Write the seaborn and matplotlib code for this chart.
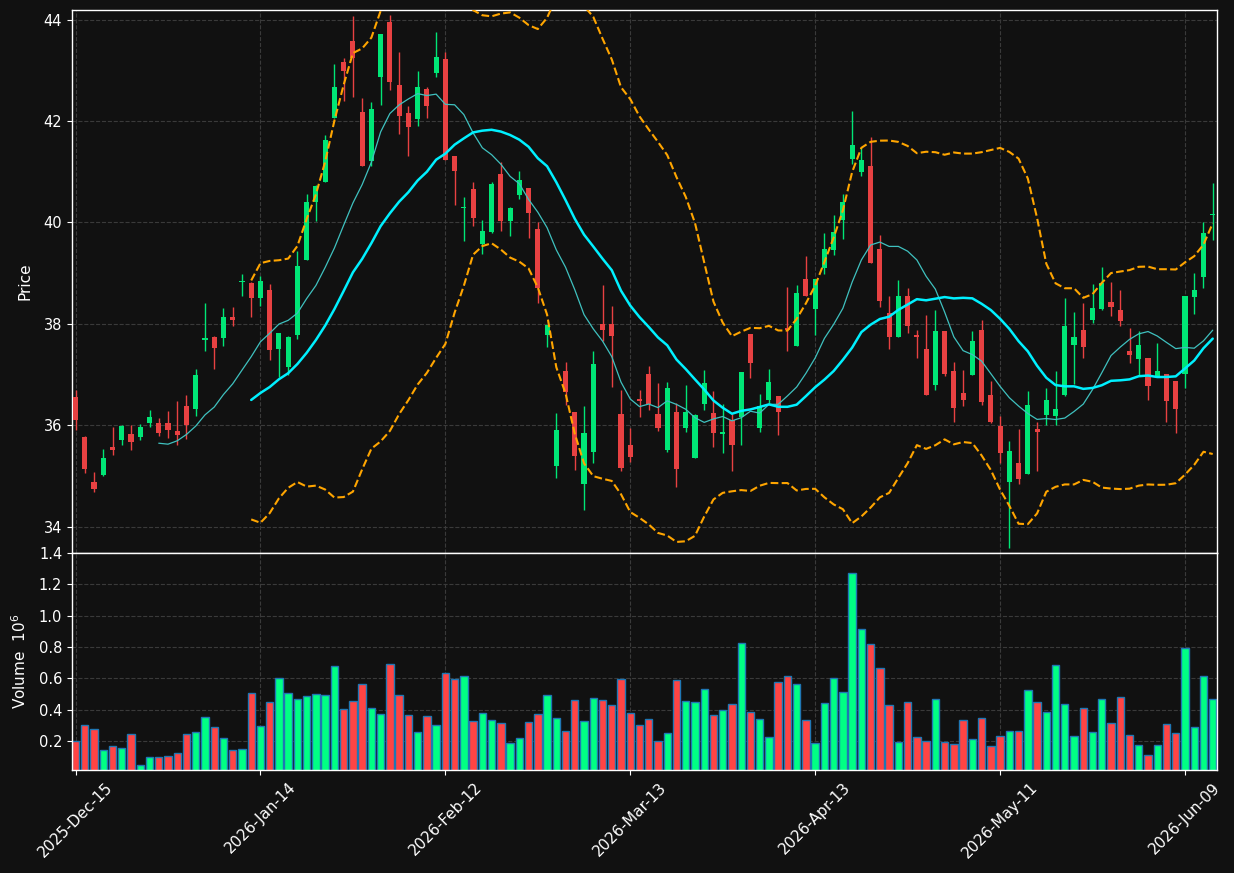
import matplotlib
matplotlib.use("Agg")
import matplotlib.pyplot as plt
import numpy as np
import pandas as pd
import seaborn as sns

# daily OHLC (one row per trading day, 2025-12-15 .. 2026-06-12)
opens = [
    36.56, 35.77, 34.87, 35.01, 35.58, 35.70, 35.82, 35.77, 36.04, 36.04,
    36.05, 35.89, 36.37, 36.32, 37.68, 37.74, 37.72, 38.14, 38.83, 38.81,
    38.50, 38.66, 37.51, 37.14, 37.78, 39.26, 40.40, 40.79, 42.06, 43.17,
    43.57, 42.18, 41.21, 42.87, 43.96, 42.71, 42.15, 42.04, 42.64, 42.94,
    43.22, 41.32, 40.28, 40.65, 39.57, 39.82, 40.95, 40.02, 40.54, 40.67,
    39.88, 37.78, 35.19, 37.06, 36.26, 34.84, 35.47, 37.99, 37.99, 36.23,
    35.61, 36.51, 37.02, 36.23, 35.51, 36.26, 35.95, 35.35, 36.42, 36.25,
    35.83, 36.10, 36.16, 37.79, 35.95, 36.49, 36.58, 37.92, 37.57, 38.89,
    38.29, 39.10, 39.45, 40.05, 41.25, 41.00, 41.12, 39.47, 38.21, 37.74,
    38.55, 37.78, 37.51, 36.79, 37.85, 37.06, 36.63, 36.99, 37.88, 36.60,
    35.99, 34.87, 35.26, 35.04, 35.93, 36.21, 36.19, 36.60, 37.58, 37.87,
    38.07, 38.29, 38.43, 38.28, 37.46, 37.31, 37.32, 36.97, 37.02, 36.88,
    37.02, 38.53, 38.93, 40.15,
]
highs = [
    36.70, 35.78, 35.08, 35.54, 35.96, 36.01, 36.01, 36.03, 36.30, 36.14,
    36.28, 36.47, 36.60, 37.11, 38.41, 37.76, 38.31, 38.34, 38.99, 38.82,
    38.94, 38.78, 37.82, 37.76, 39.43, 40.56, 40.74, 41.72, 43.13, 43.24,
    44.08, 42.46, 42.37, 43.71, 44.10, 43.36, 42.29, 42.99, 42.68, 43.75,
    43.36, 41.32, 40.50, 40.79, 40.05, 40.79, 41.20, 40.31, 41.02, 40.67,
    40.00, 37.97, 36.24, 37.25, 36.26, 36.37, 37.46, 38.76, 38.36, 36.69,
    35.94, 36.69, 37.16, 36.83, 36.85, 36.44, 36.79, 36.23, 37.09, 36.67,
    36.42, 36.23, 37.04, 37.79, 36.61, 37.11, 36.58, 38.73, 38.76, 39.33,
    38.89, 39.79, 40.14, 40.56, 42.20, 41.48, 41.69, 39.75, 38.54, 38.87,
    38.71, 37.88, 38.18, 38.27, 37.85, 37.25, 37.09, 37.85, 38.08, 36.88,
    36.19, 35.68, 35.92, 36.67, 36.06, 36.74, 37.07, 38.50, 38.24, 38.41,
    38.79, 39.13, 38.83, 38.66, 37.92, 37.85, 37.32, 37.62, 37.02, 36.88,
    38.54, 39.01, 40.00, 40.77,
]
lows = [
    35.91, 35.06, 34.69, 35.00, 35.42, 35.61, 35.51, 35.70, 35.96, 35.79,
    35.75, 35.61, 35.73, 36.19, 37.46, 37.11, 37.57, 37.95, 38.54, 38.13,
    38.36, 37.28, 36.95, 37.00, 37.71, 39.26, 40.03, 40.79, 42.06, 42.39,
    42.48, 41.11, 41.12, 42.32, 42.62, 41.74, 41.32, 41.91, 42.06, 42.87,
    41.23, 40.35, 39.64, 39.93, 39.38, 39.79, 39.84, 39.74, 40.46, 39.69,
    38.41, 37.55, 34.96, 36.40, 35.11, 34.32, 35.25, 37.67, 36.76, 35.09,
    35.28, 36.16, 36.30, 35.89, 35.47, 34.78, 35.87, 35.35, 36.30, 35.58,
    35.45, 35.10, 35.61, 36.93, 35.86, 36.44, 35.80, 37.46, 37.57, 38.54,
    37.78, 38.99, 39.36, 39.68, 41.15, 40.91, 39.20, 38.33, 37.50, 37.74,
    37.81, 37.32, 36.59, 36.69, 36.97, 36.07, 36.37, 36.99, 36.40, 36.05,
    35.26, 33.58, 34.85, 35.04, 35.10, 36.00, 36.00, 36.57, 36.81, 37.32,
    38.02, 38.27, 38.15, 37.95, 37.23, 37.00, 36.49, 36.96, 36.06, 35.84,
    36.74, 38.20, 38.71, 39.66,
]
closes = [
    36.10, 35.13, 34.75, 35.35, 35.51, 35.99, 35.66, 35.96, 36.16, 35.84,
    35.91, 35.80, 36.00, 37.00, 37.72, 37.53, 38.14, 38.07, 38.85, 38.50,
    38.85, 37.48, 37.81, 37.74, 39.15, 40.40, 40.72, 41.63, 42.68, 42.99,
    43.24, 41.11, 42.23, 43.71, 42.78, 42.10, 41.89, 42.68, 42.30, 43.27,
    41.23, 41.02, 40.30, 40.09, 39.84, 40.75, 40.02, 40.28, 40.83, 40.19,
    38.71, 37.97, 35.91, 36.66, 35.40, 35.84, 37.21, 37.88, 37.76, 35.16,
    35.38, 36.47, 36.42, 35.95, 36.74, 35.13, 36.26, 36.21, 36.84, 35.84,
    35.86, 35.61, 37.04, 37.23, 36.37, 36.86, 36.26, 37.87, 38.60, 38.54,
    38.89, 39.47, 39.81, 40.40, 41.53, 41.24, 39.20, 38.45, 37.74, 38.54,
    37.95, 37.74, 36.59, 37.86, 37.02, 36.33, 36.49, 37.67, 36.45, 36.07,
    35.45, 35.50, 34.94, 36.39, 35.86, 36.49, 36.31, 37.95, 37.74, 37.54,
    38.31, 38.81, 38.34, 38.06, 37.38, 37.58, 36.77, 37.07, 36.47, 36.32,
    38.54, 38.66, 39.79, 40.17,
]
# volume in millions of shares
volumes = [
    0.196, 0.300, 0.275, 0.140, 0.166, 0.153, 0.243, 0.044, 0.095, 0.095,
    0.100, 0.121, 0.243, 0.256, 0.352, 0.288, 0.217, 0.140, 0.147, 0.506,
    0.294, 0.450, 0.602, 0.506, 0.467, 0.487, 0.500, 0.493, 0.677, 0.403,
    0.455, 0.564, 0.410, 0.371, 0.692, 0.493, 0.365, 0.256, 0.358, 0.300,
    0.634, 0.596, 0.615, 0.326, 0.378, 0.333, 0.313, 0.185, 0.217, 0.320,
    0.371, 0.493, 0.345, 0.262, 0.461, 0.326, 0.474, 0.461, 0.429, 0.596,
    0.378, 0.300, 0.339, 0.198, 0.249, 0.589, 0.455, 0.448, 0.532, 0.365,
    0.397, 0.435, 0.827, 0.384, 0.339, 0.224, 0.576, 0.615, 0.564, 0.333,
    0.185, 0.442, 0.602, 0.512, 1.274, 0.917, 0.820, 0.666, 0.429, 0.191,
    0.448, 0.224, 0.198, 0.467, 0.191, 0.179, 0.333, 0.211, 0.345, 0.166,
    0.230, 0.262, 0.262, 0.525, 0.448, 0.384, 0.686, 0.435, 0.230, 0.410,
    0.256, 0.467, 0.313, 0.480, 0.236, 0.172, 0.108, 0.172, 0.307, 0.249,
    0.795, 0.288, 0.615, 0.467,
]
tick_labels = [
    "2025-Dec-15", "2026-Jan-14", "2026-Feb-12", "2026-Mar-13",
    "2026-Apr-13", "2026-May-11", "2026-Jun-09",
]
tick_step = 20

BG = "#111111"
UP, DOWN = "#00e676", "#e84142"
VOL_UP, VOL_DOWN = "#00ff84", "#ff4444"

df = pd.DataFrame({"open": opens, "high": highs, "low": lows,
                   "close": closes, "volume": volumes})
df["idx"] = np.arange(len(df))
df["mav10"] = df["close"].rolling(10).mean()
df["mav20"] = df["close"].rolling(20).mean()
std20 = df["close"].rolling(20).std(ddof=0)
df["bb_up"] = df["mav20"] + 2 * std20
df["bb_lo"] = df["mav20"] - 2 * std20
up = df["close"] >= df["open"]

sns.set_style("dark", rc={
    "figure.facecolor": BG, "axes.facecolor": BG, "axes.edgecolor": "white",
    "text.color": "white", "axes.labelcolor": "white",
    "xtick.color": "white", "ytick.color": "white",
    "xtick.bottom": True, "ytick.left": True,
    "grid.color": "#3a3a3a", "grid.linestyle": "--",
})
plt.rcParams["font.family"] = ["DejaVu Sans"]

fig = plt.figure(figsize=(12.34, 8.73), dpi=100)
ax = fig.add_axes([0.0583, 0.3666, 0.9279, 0.6219])
vax = fig.add_axes([0.0583, 0.1180, 0.9279, 0.2486], sharex=ax)

# candles
ax.vlines(df["idx"], df["low"], df["high"],
          colors=np.where(up, UP, DOWN), linewidth=1, zorder=2)
ax.bar(df["idx"], (df["close"] - df["open"]).abs(),
       bottom=df[["open", "close"]].min(axis=1), width=0.55,
       color=np.where(up, UP, DOWN), linewidth=0, zorder=3)

# moving averages and bollinger bands
sns.lineplot(data=df, x="idx", y="mav10", ax=ax, color="#3fc1bf", linewidth=0.9, zorder=4)
sns.lineplot(data=df, x="idx", y="mav20", ax=ax, color="#00f0ff", linewidth=1.8, zorder=4)
for col in ["bb_up", "bb_lo"]:
    sns.lineplot(data=df, x="idx", y=col, ax=ax, color="orange",
                 linewidth=1.5, linestyle="--", zorder=4)

ax.set_xlim(-0.39, 123.46)
ax.set_ylim(33.48, 44.19)
ax.set_yticks(np.arange(34, 45, 2))
ax.set_xlabel("")
ax.set_ylabel("Price", fontsize=11, labelpad=8)
ax.grid(True, linestyle="--", color="#3a3a3a", linewidth=0.8)
ax.tick_params(axis="x", labelbottom=False, length=0)
ax.tick_params(axis="y", labelsize=10.5)

# volume
vax.bar(df["idx"], df["volume"], width=0.8,
        color=np.where(up, VOL_UP, VOL_DOWN), edgecolor="#1f77b4", linewidth=1)
vax.set_ylim(0.3 * df["volume"].min(), 1.1 * df["volume"].max())
vax.set_yticks(np.arange(0.2, 1.41, 0.2))
vax.set_ylabel("Volume  $10^{6}$", fontsize=11, labelpad=7)
vax.set_xticks(np.arange(0, len(df), tick_step))
vax.set_xticklabels(tick_labels, rotation=45, fontsize=11)
vax.tick_params(axis="y", labelsize=10.5)
vax.grid(True, linestyle="--", color="#3a3a3a", linewidth=0.8)

for a in (ax, vax):
    for s in a.spines.values():
        s.set_color("white")
        s.set_linewidth(1)

fig.savefig("out.png", dpi=100, facecolor=BG)
